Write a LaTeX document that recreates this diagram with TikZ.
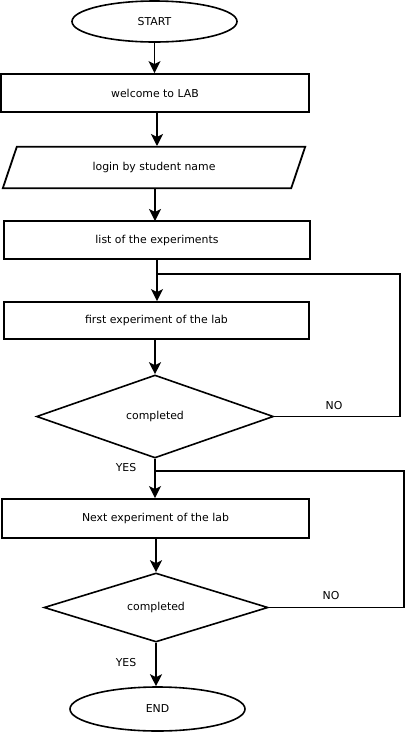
\documentclass[tikz,border=0pt]{standalone}
\usepackage{fontspec}
\setmainfont{DejaVu Sans}
\usetikzlibrary{shapes.geometric,arrows.meta,calc}
\begin{document}
\begin{tikzpicture}[x=1pt,y=-1pt,
  every node/.style={font=\fontsize{10.9}{13}\selectfont},
  box/.style={draw,line width=1.8pt,rectangle,inner sep=0pt},
  term/.style={draw,line width=1.6pt,ellipse,inner sep=0pt},
  dec/.style={draw,line width=1.6pt,diamond,inner sep=0pt},
  arr/.style={line width=1.9pt,-{Stealth[length=12pt,width=12pt,inset=3pt]}},
  ln/.style={line width=1.9pt},
  lbl/.style={inner sep=0pt}]
\useasboundingbox (0,0) rectangle (408,732);
\node[term,minimum width=165pt,minimum height=41pt] (start) at (154.5,21.5) {START};
\node[box,minimum width=308pt,minimum height=38pt] (welcome) at (155,93) {welcome to LAB};
\node[inner sep=0pt,minimum width=288pt,minimum height=41pt] (login) at (154,167.5) {login by student name};
\draw[line width=1.8pt] ($(login.north west)+(7,0)$) -- ($(login.north east)+(7,0)$) -- ($(login.south east)+(-7,0)$) -- ($(login.south west)+(-7,0)$) -- cycle;
\node[box,minimum width=306pt,minimum height=38pt] (list) at (157,240) {list of the experiments};
\node[box,minimum width=305pt,minimum height=37pt] (first) at (156.5,320.5) {first experiment of the lab};
\node[dec,minimum width=237pt,minimum height=83pt] (d1) at (155,416.5) {completed};
\node[box,minimum width=307pt,minimum height=39pt] (next) at (155.5,518.5) {Next experiment of the lab};
\node[dec,minimum width=224pt,minimum height=69pt] (d2) at (156,607.5) {completed};
\node[term,minimum width=175pt,minimum height=44pt] (end) at (157.5,709) {END};
\node[lbl] (no1) at (334,406) {NO};
\node[lbl] (yes1) at (126,468) {YES};
\node[lbl] (no2) at (331,596) {NO};
\node[lbl] (yes2) at (126,663) {YES};
\coordinate (j1) at (157,274);
\coordinate (r1) at (400,274);
\coordinate (j2) at (155,471);
\coordinate (r2) at (404,471);
\draw[arr] (start.south) -- (start.south |- welcome.north);
\draw[arr] (welcome.south -| 157,0) -- (157,146);
\draw[arr] (login.south -| 155,0) -- (155,221);
\draw[arr] (list.south) -- (list.south |- first.north);
\draw[arr] (first.south -| d1.north) -- (d1.north);
\draw[arr] (d1.south) -- (d1.south |- next.north);
\draw[arr] (next.south -| d2.north) -- (d2.north);
\draw[arr] (d2.south) -- (d2.south |- end.north);
\draw[ln] (d1.east) -| (r1) -- (j1);
\draw[ln] (d2.east) -| (r2) -- (j2);
\end{tikzpicture}
\end{document}
